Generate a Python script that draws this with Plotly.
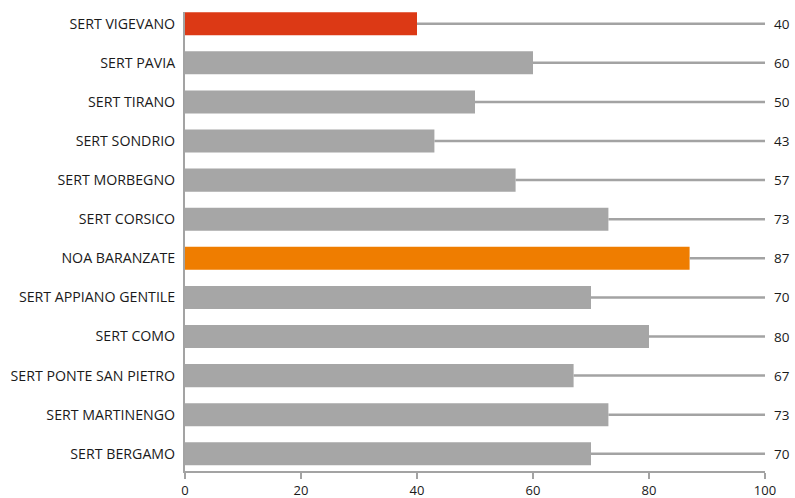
import plotly.graph_objects as go

# Services, top to bottom
services = [
    "SERT VIGEVANO", "SERT PAVIA", "SERT TIRANO", "SERT SONDRIO",
    "SERT MORBEGNO", "SERT CORSICO", "NOA BARANZATE", "SERT APPIANO GENTILE",
    "SERT COMO", "SERT PONTE SAN PIETRO", "SERT MARTINENGO", "SERT BERGAMO",
]
scores = [40, 60, 50, 43, 57, 73, 87, 70, 80, 67, 73, 70]
x_ticks = [0, 20, 40, 60, 80, 100]

RED = "#DC3915"
ORANGE = "#EF7D00"
GREY = "#A6A6A6"
LINE = "#A3A3A3"
highlight = {"SERT VIGEVANO": RED, "NOA BARANZATE": ORANGE}
bar_colors = [highlight.get(s, GREY) for s in services]

fig = go.Figure()

# track line from each bar end to the 100 mark
lx, ly = [], []
for s, v in zip(services, scores):
    lx += [v, 100, None]
    ly += [s, s, None]
fig.add_trace(go.Scatter(
    x=lx, y=ly, mode="lines",
    line=dict(color=LINE, width=2.5),
    hoverinfo="skip", showlegend=False,
))

fig.add_trace(go.Bar(
    x=scores, y=services, orientation="h",
    marker=dict(color=bar_colors, line=dict(width=0)),
    width=0.59, showlegend=False,
))

# value labels at the right end of each track
for s, v in zip(services, scores):
    fig.add_annotation(
        x=100, y=s, xref="x", yref="y", text=str(v),
        showarrow=False, xanchor="left", xshift=7,
        font=dict(size=13.5, color="#1a1a1a"),
    )

fig.update_layout(
    width=795, height=498,
    margin=dict(l=185, r=30, t=12, b=27, autoexpand=False),
    paper_bgcolor="white", plot_bgcolor="white",
    font=dict(family="Open Sans, sans-serif", size=14, color="#1a1a1a"),
    bargap=0.41,
)
fig.update_xaxes(
    range=[0, 100], tickvals=x_ticks, showgrid=False, zeroline=False,
    showline=True, linecolor=LINE, linewidth=2, automargin=False,
    ticks="outside", ticklen=6, tickwidth=2, tickcolor=LINE,
    ticklabelstandoff=0, tickfont=dict(size=13),
)
fig.update_yaxes(
    type="category", categoryorder="array", categoryarray=services,
    range=[11.44, -0.3], showgrid=False, zeroline=False,
    showline=True, linecolor=LINE, linewidth=2, automargin=False,
    ticks="", ticklabelstandoff=5,
    tickfont=dict(size=14.2),
)

fig.write_html("out.html")
